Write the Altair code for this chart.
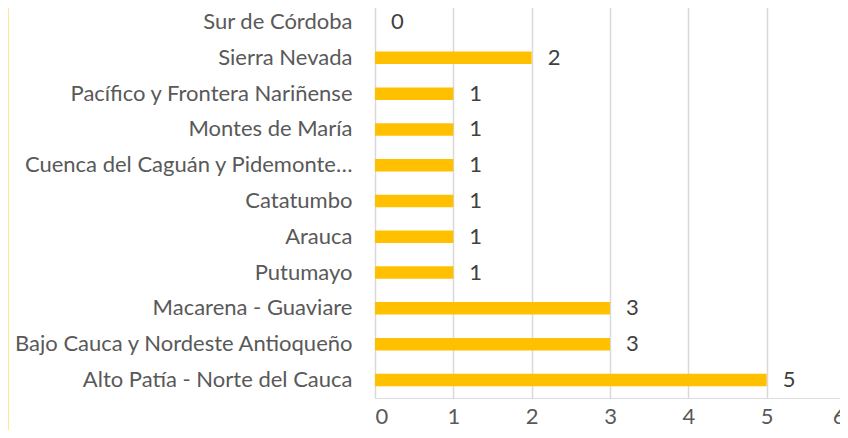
import altair as alt
import pandas as pd

categories = [
    "Sur de Córdoba",
    "Sierra Nevada",
    "Pacífico y Frontera Nariñense",
    "Montes de María",
    "Cuenca del Caguán y Pidemonte…",
    "Catatumbo",
    "Arauca",
    "Putumayo",
    "Macarena - Guaviare",
    "Bajo Cauca y Nordeste Antioqueño",
    "Alto Patía - Norte del Cauca",
]
values = [0, 2, 1, 1, 1, 1, 1, 1, 3, 3, 5]
x_ticks = [0, 1, 2, 3, 4, 5, 6]

df = pd.DataFrame({"region": categories, "n": values})

FONT = "Lato"
FS = 22

y_enc = alt.Y(
    "region:N",
    sort=categories,
    scale=alt.Scale(paddingInner=0.65, paddingOuter=0.33),
    axis=alt.Axis(
        title=None, domain=False, ticks=False, labelPadding=23,
        labelFont=FONT, labelFontSize=FS, labelColor="#595959", labelLimit=400,
    ),
)
x_enc = alt.X(
    "n:Q",
    scale=alt.Scale(domain=[0, 6], nice=False),
    axis=alt.Axis(
        title=None, values=x_ticks, domain=False, ticks=False,
        grid=True, gridColor="#D9D9D9", gridWidth=1.5,
        labelPadding=8, labelFont=FONT, labelFontSize=FS,
        labelColor="#595959", labelBaseline="top", format="d",
    ),
)

bars = alt.Chart(df).mark_bar(color="#FFC000").encode(x=x_enc, y=y_enc)

text = alt.Chart(df).mark_text(
    align="left", baseline="middle", dx=16, font=FONT, fontSize=FS, color="#404040"
).encode(x="n:Q", y=alt.Y("region:N", sort=categories), text="n:Q")

edge = alt.Chart(df).mark_rule(color="#FFE699", strokeWidth=2).encode(
    x=alt.value(-367), y=alt.value(-20), y2=alt.value(500)
)

chart = (
    alt.layer(bars, text, edge)
    .properties(
        width=470,
        height=394,
        autosize=alt.AutoSizeParams(type="none"),
        padding={"left": 367, "top": -4, "right": -5, "bottom": 32},
    )
    .configure_view(stroke=None)
    .configure(background="white")
)

chart.save("out.html", embed_options={"renderer": "svg", "actions": False})
